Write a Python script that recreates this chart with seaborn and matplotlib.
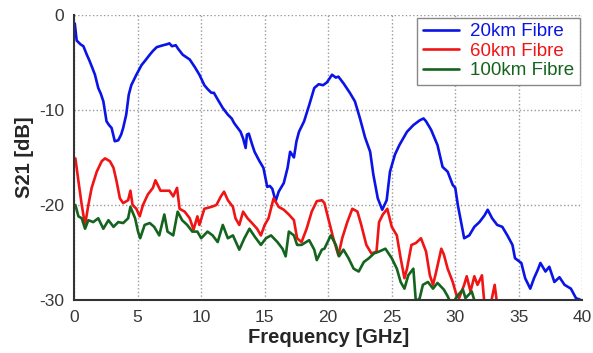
import matplotlib
matplotlib.use("Agg")
import matplotlib.pyplot as plt
import seaborn as sns
import pandas as pd

# 20km Fibre
f_20km = [0.05, 0.2, 0.5, 0.73, 1.0, 1.2, 1.38, 1.64, 1.9, 2.1, 2.3, 2.55, 2.75, 2.95, 3.2, 3.47, 3.7, 3.86,
          4.1, 4.3, 4.5, 4.9, 5.3, 5.6, 5.95, 6.2, 6.5, 7.0, 7.3, 7.5, 7.7, 8.0, 8.2, 8.55, 9.1, 9.5, 9.86,
          10.25, 10.5, 10.8, 11.0, 11.3, 11.7, 12.1, 12.4, 12.6, 13.1, 13.3, 13.5, 13.6, 13.75, 14.0, 14.2,
          14.55, 14.9, 15.2, 15.4, 15.6, 15.86, 16.1, 16.5, 16.8, 17.0, 17.3, 17.5, 17.7, 18.1, 18.5, 18.9,
          19.25, 19.6, 19.9, 20.3, 20.6, 20.8, 21.2, 21.7, 22.1, 22.5, 22.9, 23.3, 23.55, 23.9, 24.25, 24.6,
          24.86, 25.25, 25.6, 26.2, 26.7, 27.2, 27.5, 27.7, 28.1, 28.6, 29.0, 29.4, 29.8, 30.0, 30.2, 30.5,
          30.7, 31.1, 31.5, 31.9, 32.3, 32.55, 32.9, 33.3, 33.7, 34.1, 34.5, 34.7, 35.2, 35.5, 35.9, 36.2,
          36.5, 36.7, 37.1, 37.4, 37.8, 38.2, 38.6, 39.1, 39.5, 39.9]
s21_20km = [-0.9, -2.7, -3.1, -3.3, -4.2, -4.8, -5.4, -6.3, -7.7, -8.3, -9.1, -11.2, -11.6, -11.9, -13.3, -13.2,
            -12.6, -11.9, -10.5, -8.4, -7.4, -6.3, -5.3, -4.8, -4.2, -3.8, -3.4, -3.2, -3.1, -3.0, -3.3, -3.2,
            -3.6, -4.2, -4.7, -5.5, -6.3, -7.4, -7.8, -8.2, -8.2, -8.9, -9.8, -10.5, -10.9, -11.4, -12.3, -13.0,
            -14.0, -12.6, -12.5, -13.6, -14.4, -15.3, -16.1, -18.1, -18.0, -18.3, -19.6, -18.6, -17.7, -16.1,
            -14.4, -15.0, -13.3, -12.3, -11.2, -9.5, -7.7, -7.3, -7.4, -7.1, -6.3, -6.6, -6.5, -7.2, -8.2, -9.1,
            -10.9, -12.9, -14.4, -16.8, -19.3, -20.5, -19.5, -16.5, -14.7, -13.7, -12.3, -11.6, -11.1, -10.9,
            -11.2, -12.1, -13.7, -16.0, -16.5, -17.9, -18.2, -20.0, -22.1, -23.5, -23.2, -22.3, -21.8, -21.1,
            -20.5, -21.4, -22.1, -22.3, -23.2, -24.2, -25.6, -26.1, -27.7, -28.8, -27.7, -26.8, -26.1, -27.0,
            -26.5, -28.1, -27.6, -28.4, -28.8, -29.8, -30.0]

# 60km Fibre
f_60km = [0.1, 0.34, 0.6, 0.86, 1.12, 1.38, 1.78, 2.17, 2.43, 2.82, 3.1, 3.34, 3.6, 3.86, 4.25, 4.43, 4.6, 4.9,
          5.16, 5.42, 5.8, 6.2, 6.4, 6.8, 7.1, 7.5, 7.8, 8.1, 8.3, 8.7, 9.1, 9.4, 9.7, 9.86, 10.25, 10.8, 11.2,
          11.55, 11.8, 12.1, 12.5, 12.7, 13.0, 13.3, 13.65, 14.0, 14.4, 14.7, 15.0, 15.3, 15.7, 16.1, 16.5,
          16.9, 17.3, 17.55, 17.9, 18.3, 18.7, 19.1, 19.5, 19.7, 20.0, 20.4, 20.8, 21.1, 21.5, 21.9, 22.3,
          22.6, 23.0, 23.4, 23.8, 24.0, 24.3, 24.65, 25.0, 25.4, 25.7, 26.0, 26.2, 26.55, 26.9, 27.3, 27.7,
          28.0, 28.25, 28.5, 28.9, 29.1, 29.4, 29.8, 30.1, 30.3, 30.7, 30.9, 31.2, 31.5, 31.75, 32.1, 32.3,
          32.7, 33.1, 33.3]
s21_60km = [-15.1, -17.5, -20.0, -22.1, -20.0, -18.2, -16.5, -15.4, -15.1, -15.4, -16.1, -17.5, -19.3, -19.8,
            -19.5, -18.5, -20.0, -20.4, -21.2, -20.0, -18.9, -18.2, -17.4, -18.5, -18.5, -18.5, -19.1, -18.2,
            -20.4, -20.7, -21.4, -22.6, -21.2, -22.1, -20.4, -20.2, -20.0, -19.1, -18.6, -19.5, -20.2, -21.4,
            -22.1, -20.7, -21.4, -21.9, -22.5, -23.2, -22.1, -21.4, -19.3, -20.2, -20.5, -21.0, -21.6, -23.5,
            -23.9, -22.5, -20.7, -19.6, -19.5, -19.8, -21.4, -23.5, -25.3, -23.5, -21.8, -20.4, -20.7, -22.1,
            -24.2, -25.1, -24.9, -21.8, -21.0, -20.4, -22.3, -23.2, -25.6, -27.7, -26.7, -24.2, -24.0, -23.5,
            -24.9, -27.4, -28.4, -27.0, -24.6, -25.2, -26.7, -28.1, -29.5, -29.8, -28.4, -27.5, -29.1, -27.5,
            -28.4, -27.4, -30.5, -31.0, -28.4, -30.5]

# 100km Fibre
f_100km = [0.1, 0.34, 0.6, 0.86, 1.12, 1.5, 1.9, 2.3, 2.7, 3.1, 3.47, 3.86, 4.25, 4.43, 4.8, 5.03, 5.2, 5.55,
           5.95, 6.3, 6.7, 7.1, 7.35, 7.8, 8.15, 8.5, 8.9, 9.3, 9.7, 10.0, 10.5, 10.9, 11.3, 11.7, 12.1, 12.5,
           13.0, 13.4, 13.8, 14.2, 14.7, 15.1, 15.5, 16.0, 16.4, 16.65, 16.9, 17.3, 17.55, 17.9, 18.5, 18.9,
           19.1, 19.5, 19.7, 20.2, 20.6, 20.85, 21.2, 21.6, 22.0, 22.4, 22.8, 23.2, 23.6, 24.0, 24.5, 25.0,
           25.4, 25.7, 26.0, 26.3, 26.7, 26.9, 27.2, 27.45, 27.85, 28.25, 28.6, 29.1, 29.4, 29.7, 30.2, 30.6,
           30.8, 31.3, 31.6, 32.0]
s21_100km = [-20.0, -21.2, -21.4, -22.5, -21.6, -21.8, -21.4, -22.5, -21.6, -22.3, -21.8, -21.9, -21.4, -20.2,
             -21.4, -22.8, -23.5, -22.1, -21.9, -22.3, -23.2, -21.0, -22.8, -23.2, -20.7, -21.6, -22.1, -22.8,
             -22.8, -23.5, -22.8, -23.2, -23.9, -22.1, -23.5, -23.2, -24.7, -23.5, -22.5, -23.3, -24.2, -23.5,
             -23.2, -23.9, -24.6, -25.4, -22.8, -23.2, -24.2, -24.2, -23.7, -24.7, -25.8, -24.7, -24.6, -23.2,
             -24.2, -25.4, -24.7, -25.6, -26.7, -27.0, -26.0, -25.6, -25.1, -24.9, -24.6, -25.6, -26.7, -28.1,
             -28.8, -27.4, -26.7, -30.2, -29.8, -28.4, -28.1, -28.8, -28.2, -28.9, -29.6, -30.5, -29.5, -28.9,
             -29.8, -29.1, -30.5, -30.1]

labels = ["20km Fibre", "60km Fibre", "100km Fibre"]
farben = ["#0a14e6", "#f01414", "#14641e"]

sns.set_theme(style="white")
plt.rcParams['font.family'] = ['Liberation Sans', 'DejaVu Sans']
plt.rcParams['axes.unicode_minus'] = False

fig = plt.figure(figsize=(5.93, 3.53), dpi=100)
ax = fig.add_axes([0.125, 0.150, 0.857, 0.808])

for fx, sy, lab, col in zip([f_20km, f_60km, f_100km], [s21_20km, s21_60km, s21_100km], labels, farben):
    df = pd.DataFrame({"f": fx, "s21": sy})
    sns.lineplot(data=df, x="f", y="s21", ax=ax, color=col, linewidth=1.9, label=lab,
                 sort=False, estimator=None)

ax.set_xlim(0, 40)
ax.set_ylim(-30, 0)
ax.set_xticks([0, 5, 10, 15, 20, 25, 30, 35, 40])
ax.set_yticks([-30, -20, -10, 0])
ax.grid(True, linestyle=':', color='#999999', linewidth=1.0)
ax.tick_params(axis='both', length=0, labelsize=12.5, colors='#383838', pad=7)
ax.spines['top'].set_visible(False)
ax.spines['right'].set_visible(False)
ax.spines['left'].set_color('#333333')
ax.spines['bottom'].set_color('#333333')
ax.spines['left'].set_linewidth(1.5)
ax.spines['bottom'].set_linewidth(1.5)

ax.set_xlabel("Frequency [GHz]", fontsize=14.5, fontweight='bold', labelpad=2)
ax.set_ylabel("S21 [dB]", fontsize=14.5, fontweight='bold', labelpad=4)

leg = ax.legend(loc='upper right', fontsize=13.5, frameon=True, fancybox=False, framealpha=1,
                edgecolor='#888888', borderaxespad=0.15, handlelength=1.9, handletextpad=0.6,
                labelspacing=0.12, borderpad=0.3)
for txt, col in zip(leg.get_texts(), farben):
    txt.set_color(col)

fig.savefig("out.png", dpi=100)
